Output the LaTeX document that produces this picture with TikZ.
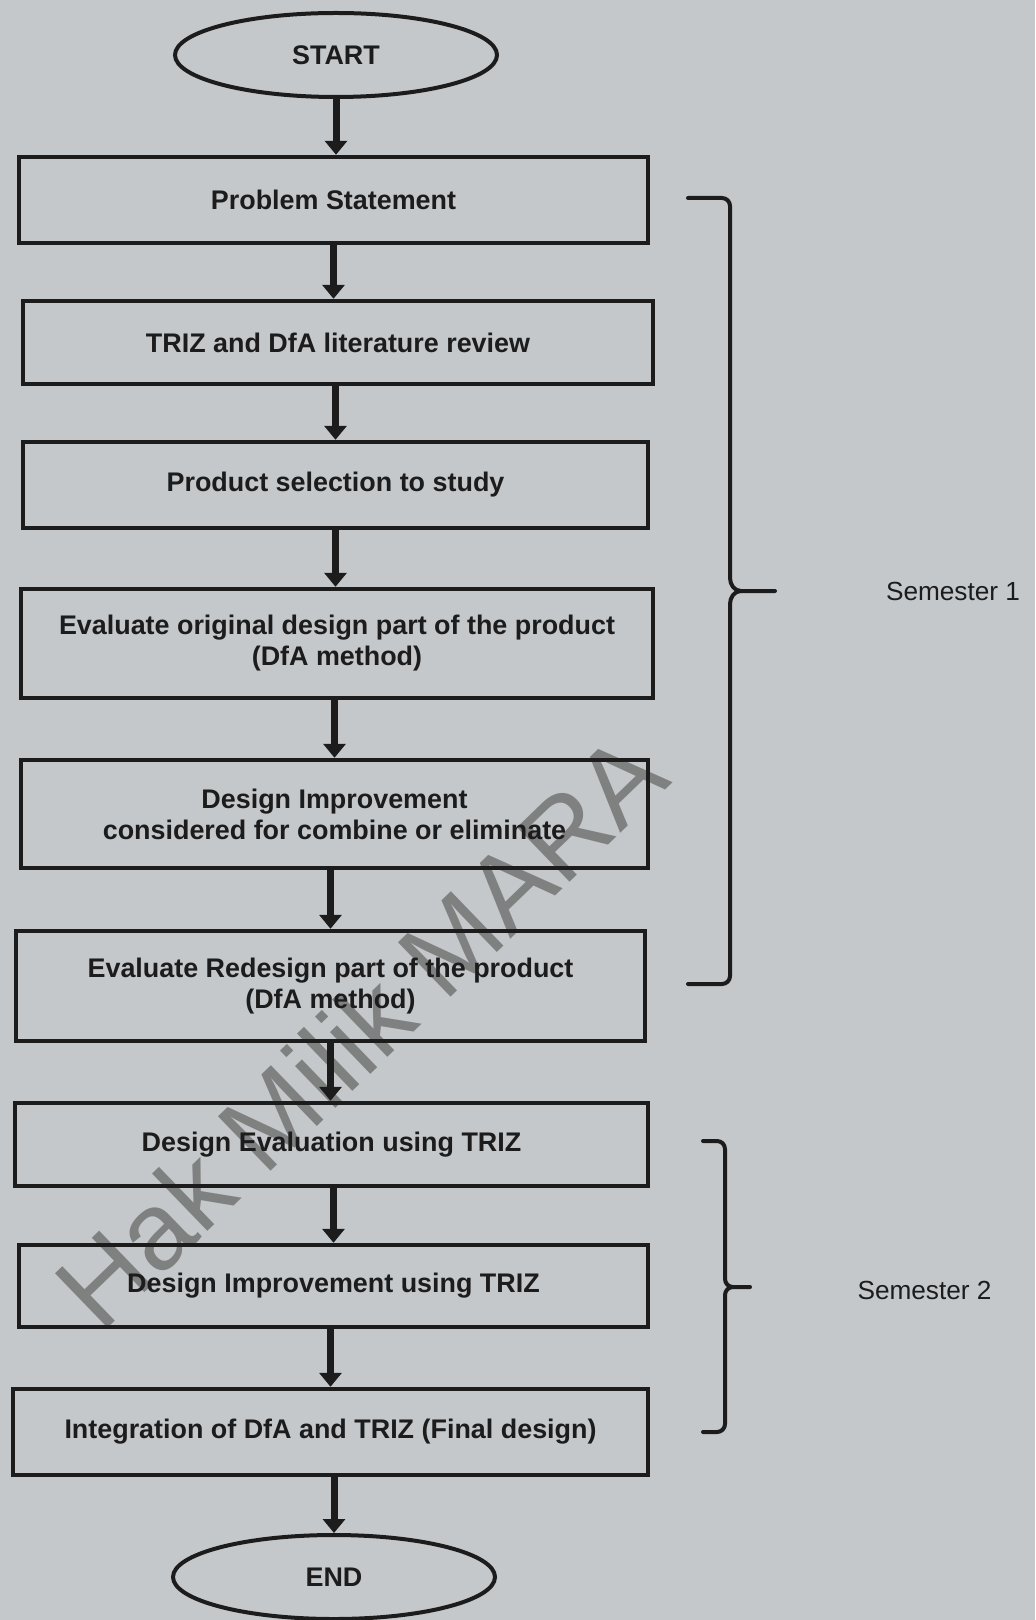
\documentclass[tikz,border=0pt]{standalone}
\usepackage{fontspec}
\setmainfont{Liberation Sans}
\usetikzlibrary{shapes.geometric,arrows.meta}
\definecolor{bgc}{HTML}{C4C8CB}
\definecolor{inkc}{HTML}{1C1C1C}
\definecolor{wmc}{HTML}{6E6E6E}
\tikzset{
  box/.style={draw=inkc, line width=2.2pt, inner sep=0pt, align=center, text=inkc,
    font=\bfseries\fontsize{13.45}{15.5}\selectfont},
  term/.style={ellipse, draw=inkc, line width=2pt, inner sep=0pt, text=inkc,
    minimum width=161pt, minimum height=42pt, font=\bfseries\fontsize{13.45}{15.5}\selectfont},
  arr/.style={draw=inkc, line width=3.5pt, -{Triangle[width=11pt,length=7pt]}},
  brace/.style={draw=inkc, line width=2pt, line cap=round, line join=round},
  semlabel/.style={text=inkc, inner sep=0pt, font=\fontsize{13.1}{15}\selectfont},
  wmark/.style={text=wmc, opacity=0.8, inner sep=0pt, font=\fontsize{55}{55}\selectfont}
}
\begin{document}
\begin{tikzpicture}[x=0.5pt,y=-0.5pt]
\fill[bgc] (0,0) rectangle (1035,1620);
\useasboundingbox (0,0) rectangle (1035,1620);

% watermark
\node[wmark, rotate=44] (wm) at (360,1030) {Hak Milik MARA};

% terminals
\node[term] (start) at (336,55) {START};
\node[term] (end) at (334,1577) {END};

% process boxes
\node[box, minimum width=314.5pt, minimum height=43pt] (ps) at (333.5,200) {Problem Statement};
\node[box, minimum width=315pt, minimum height=41.5pt] (lit) at (338,342.5) {TRIZ and DfA literature review};
\node[box, minimum width=312.5pt, minimum height=43pt] (sel) at (335.5,485) {Product selection to study};
\node[box, minimum width=316pt, minimum height=54.5pt] (evo) at (337,643.5) {Evaluate original design part of the product\\(DfA method)};
\node[box, minimum width=313.5pt, minimum height=54pt] (di) at (334.5,814) {Design Improvement\\considered for combine or eliminate};
\node[box, minimum width=314.5pt, minimum height=55pt] (evr) at (330.5,986) {Evaluate Redesign part of the product\\(DfA method)};
\node[box, minimum width=316.5pt, minimum height=41.5pt] (de) at (331.5,1144.5) {Design Evaluation using TRIZ};
\node[box, minimum width=314.5pt, minimum height=41pt] (dit) at (333.5,1286) {Design Improvement using TRIZ};
\node[box, minimum width=317.5pt, minimum height=43pt] (integ) at (330.5,1432) {Integration of DfA and TRIZ (Final design)};

% connectors
\draw[arr] (start.south) -- (start.south |- ps.north);
\draw[arr] (ps.south) -- (ps.south |- lit.north);
\draw[arr] (lit.south -| sel.north) -- (sel.north);
\draw[arr] (sel.south) -- (sel.south |- evo.north);
\draw[arr] (evo.south -| di.north) -- (di.north);
\draw[arr] (di.south -| evr.north) -- (evr.north);
\draw[arr] (evr.south) -- (evr.south |- de.north);
\draw[arr] (de.south -| dit.north) -- (dit.north);
\draw[arr] (dit.south -| integ.north) -- (integ.north);
\draw[arr] (integ.south -| end.north) -- (end.north);

% semester 1 brace
\coordinate (s1a) at (688,198);
\coordinate (s1tip) at (775,591);
\coordinate (s1b) at (688,984);
\draw[brace] (s1a) -- (722,198) to[out=0,in=90] (730,206) -- (730,578)
  to[out=-90,in=180] (741,591) -- (s1tip);
\draw[brace] (741,591) to[out=180,in=90] (730,604) -- (730,976)
  to[out=-90,in=0] (722,984) -- (s1b);
\node[semlabel] (sem1) at (953,591) {Semester 1};

% semester 2 brace
\coordinate (s2a) at (703,1141);
\coordinate (s2tip) at (750,1287);
\coordinate (s2b) at (703,1432);
\draw[brace] (s2a) -- (717,1141) to[out=0,in=90] (725,1149) -- (725,1279)
  to[out=-90,in=180] (733,1287) -- (s2tip);
\draw[brace] (733,1287) to[out=180,in=90] (725,1295) -- (725,1424)
  to[out=-90,in=0] (717,1432) -- (s2b);
\node[semlabel] (sem2) at (924.5,1290) {Semester 2};
\end{tikzpicture}
\end{document}
